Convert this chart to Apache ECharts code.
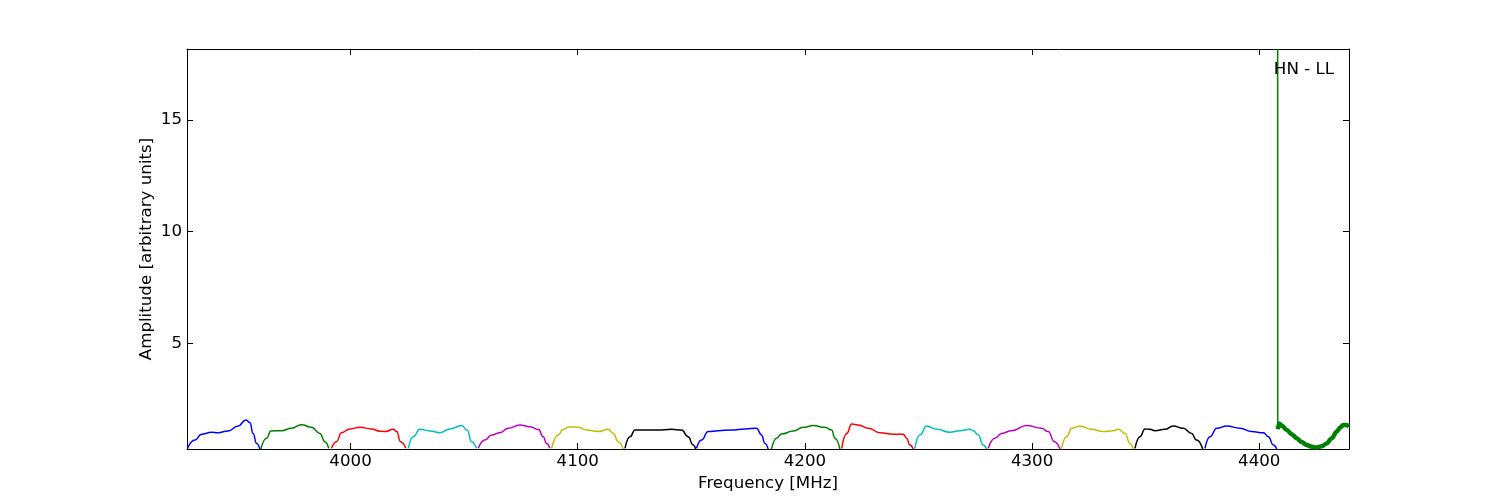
<!DOCTYPE html>
<html>
<head>
<meta charset="utf-8">
<script src="https://cdn.jsdelivr.net/npm/echarts@6/dist/echarts.min.js"></script>
<style>html,body{margin:0;padding:0;background:#fff}#c{width:1500px;height:500px}</style>
</head>
<body>
<div id="c"></div>
<script>
// ---- data (frequency MHz, amplitude) ----
const xTicks = [4000, 4100, 4200, 4300, 4400];
const yTicks = [5, 10, 15];
const xMin = 3928.0, xMax = 4439.5;
const yMin = 0.26, yMax = 18.18;
const bandColors = ['#0000ff','#008000','#ff0000','#00bfbf','#bf00bf','#bfbf00','#000000'];

const band01 = [[3928.2,0.29],[3931.5,0.66],[3934.4,0.92],[3938.8,1.01],[3941.7,0.99],[3946.1,1.07],[3950.5,1.29],[3953.9,1.56],[3955.7,1.44],[3957.1,0.96],[3958.6,0.52],[3960.1,0.25]];
const band02 = [[3960.5,0.25],[3963.0,0.74],[3964.9,1.07],[3969.6,1.08],[3974.0,1.19],[3978.4,1.35],[3982.8,1.23],[3986.5,0.96],[3988.7,0.59],[3990.4,0.29]];
const band03 = [[3991.6,0.29],[3993.8,0.59],[3996.0,0.99],[3999.7,1.16],[4004.1,1.23],[4009.2,1.16],[4012.9,1.06],[4015.1,1.04],[4018.8,1.14],[4020.3,1.04],[4022.0,0.59],[4024.3,0.29]];
const band04 = [[4025.4,0.29],[4027.6,0.81],[4030.5,1.14],[4034.9,1.07],[4039.3,0.99],[4043.7,1.16],[4048.9,1.31],[4051.3,1.11],[4053.3,0.59],[4055.5,0.29]];
const band05 = [[4056.2,0.29],[4059.1,0.66],[4062.1,0.89],[4065.7,0.99],[4069.4,1.19],[4074.5,1.34],[4078.9,1.26],[4082.6,1.14],[4084.8,0.81],[4086.3,0.51],[4087.7,0.29]];
const band06 = [[4088.5,0.29],[4091.4,0.89],[4093.6,1.14],[4096.5,1.26],[4100.2,1.23],[4103.9,1.11],[4109.0,1.04],[4113.4,1.14],[4115.6,0.96],[4117.8,0.59],[4120.0,0.26]];
const band07 = [[4120.8,0.29],[4123.0,0.81],[4125.2,1.11],[4129.6,1.11],[4135.4,1.11],[4141.3,1.14],[4145.7,1.11],[4148.6,0.81],[4150.8,0.44],[4151.9,0.26]];
const band08 = [[4152.3,0.29],[4154.5,0.66],[4157.4,1.04],[4161.8,1.08],[4167.7,1.11],[4173.6,1.16],[4178.7,1.19],[4180.9,0.89],[4182.4,0.51],[4183.8,0.26]];
const band09 = [[4185.3,0.26],[4187.5,0.74],[4189.7,0.93],[4194.9,1.07],[4199.3,1.23],[4203.7,1.31],[4208.8,1.23],[4211.8,1.11],[4213.2,0.74],[4215.4,0.26]];
const band10 = [[4216.2,0.29],[4218.4,0.96],[4220.6,1.38],[4223.5,1.34],[4227.9,1.19],[4233.0,0.99],[4238.9,0.92],[4243.3,0.92],[4244.8,0.74],[4246.2,0.44],[4247.7,0.26]];
const band11 = [[4248.4,0.29],[4250.6,0.89],[4253.6,1.29],[4258.0,1.14],[4263.8,1.01],[4268.2,1.08],[4272.6,1.14],[4274.1,1.08],[4276.3,0.89],[4278.5,0.44],[4280.0,0.26]];
const band12 = [[4280.7,0.29],[4283.6,0.74],[4286.6,0.96],[4291.0,1.08],[4297.6,1.31],[4304.2,1.19],[4307.1,1.04],[4309.8,0.59],[4312.3,0.26]];
const band13 = [[4313.0,0.29],[4315.2,0.81],[4317.4,1.19],[4321.1,1.29],[4326.2,1.14],[4331.3,1.04],[4335.7,1.08],[4337.9,1.14],[4340.9,0.96],[4343.1,0.51],[4344.5,0.26]];
const band14 = [[4345.3,0.29],[4347.5,0.81],[4349.7,1.16],[4351.9,1.14],[4354.1,1.08],[4358.5,1.14],[4362.1,1.29],[4366.5,1.19],[4370.2,0.96],[4372.4,0.66],[4375.1,0.26]];
const band15 = [[4376.1,0.29],[4378.3,0.81],[4381.3,1.19],[4385.7,1.29],[4391.5,1.19],[4396.7,1.04],[4401.8,0.99],[4404.0,0.81],[4406.2,0.44],[4407.7,0.26]];
const band16Spike = [[4408.1,18.18],[4408.15,1.15]];
const band16 = [[4408.15,1.15],[4408.8,1.40],[4410.0,1.30],[4412.1,1.11],[4414.3,0.92],[4416.5,0.74],[4418.7,0.57],[4420.9,0.44],[4423.1,0.36],[4425.3,0.33],[4427.5,0.38],[4429.7,0.51],[4431.9,0.74],[4434.1,1.04],[4435.6,1.22],[4437.0,1.34],[4438.3,1.33],[4439.5,1.27]];

const bands = [band01,band02,band03,band04,band05,band06,band07,band08,band09,band10,band11,band12,band13,band14,band15,band16];

const FONT = 'DejaVu Sans';
const FS = 16.67;
const series = bands.map((b, i) => ({
  type: 'line',
  data: b,
  showSymbol: false,
  symbol: 'none',
  smooth: i === 15 ? 0.3 : 0.5,
  smoothMonotone: 'x',
  lineStyle: { color: bandColors[i % 7], width: i === 15 ? 4.5 : 1.5 },
  itemStyle: { color: bandColors[i % 7] },
  clip: true,
  silent: true,
  animation: false
}));
series.push({
  type: 'line', data: band16Spike, showSymbol: false, symbol: 'none',
  lineStyle: { color: bandColors[1], width: 1.5 }, animation: false, silent: true, clip: true
});

const plain = v => String(v);

const chart = echarts.init(document.getElementById('c'), null, { renderer: 'canvas' });
chart.setOption({
  animation: false,
  backgroundColor: '#ffffff',
  title: {
    text: 'HN - LL', right: 161, top: 56,
    textStyle: { fontFamily: FONT, fontSize: FS, fontWeight: 'normal', color: '#000' }
  },
  grid: { left: 187, right: 151, top: 49, bottom: 51, containLabel: false, outerBoundsMode: 'none' },
  xAxis: [{
    type: 'value', min: xMin, max: xMax, position: 'bottom',
    name: 'Frequency [MHz]', nameLocation: 'middle', nameGap: 18,
    nameTextStyle: { fontFamily: FONT, fontSize: FS, color: '#000' },
    axisLine: { show: true, onZero: false, lineStyle: { color: '#000', width: 1 } },
    axisTick: { show: true, inside: true, length: 6, customValues: xTicks, lineStyle: { color: '#000' } },
    axisLabel: { customValues: xTicks, formatter: plain, fontFamily: FONT, fontSize: FS, color: '#000', margin: 4 },
    splitLine: { show: false }
  }, {
    type: 'value', min: xMin, max: xMax, position: 'top',
    axisLine: { show: true, onZero: false, lineStyle: { color: '#000', width: 1 } },
    axisTick: { show: true, inside: true, length: 6, customValues: xTicks, lineStyle: { color: '#000' } },
    axisLabel: { show: false }, splitLine: { show: false }
  }],
  yAxis: [{
    type: 'value', min: yMin, max: yMax, position: 'left',
    name: 'Amplitude [arbitrary units]', nameLocation: 'middle', nameGap: 32, nameRotate: 90,
    nameMoveOverlap: false,
    nameTextStyle: { fontFamily: FONT, fontSize: FS, color: '#000' },
    axisLine: { show: true, onZero: false, lineStyle: { color: '#000', width: 1 } },
    axisTick: { show: true, inside: true, length: 6, customValues: yTicks, lineStyle: { color: '#000' } },
    axisLabel: { customValues: yTicks, formatter: plain, fontFamily: FONT, fontSize: FS, color: '#000', margin: 5 },
    splitLine: { show: false }
  }, {
    type: 'value', min: yMin, max: yMax, position: 'right',
    axisLine: { show: true, onZero: false, lineStyle: { color: '#000', width: 1 } },
    axisTick: { show: true, inside: true, length: 6, customValues: yTicks, lineStyle: { color: '#000' } },
    axisLabel: { show: false }, splitLine: { show: false }
  }],
  series: series
});
</script>
</body>
</html>
